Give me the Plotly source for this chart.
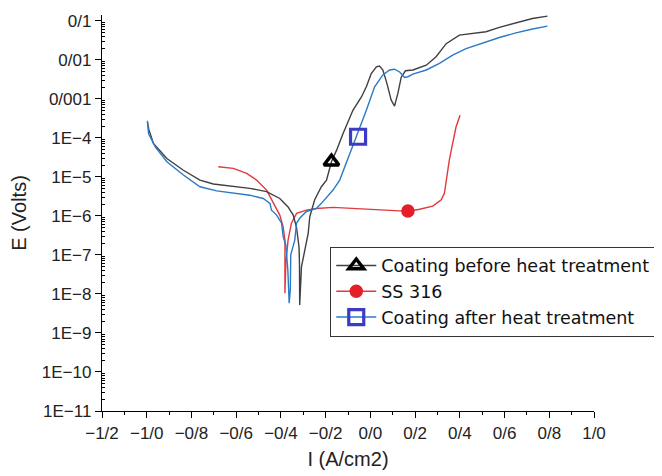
import plotly.graph_objects as go

# ---- data ----
before_I = [-0.997, -0.990, -0.970, -0.910, -0.836, -0.762, -0.702, -0.613, -0.539, -0.464,
            -0.405, -0.368, -0.345, -0.330, -0.319, -0.317, -0.316,
            -0.308, -0.293, -0.278, -0.271, -0.249, -0.219, -0.196, -0.174, -0.150, -0.122,
            -0.078, -0.040, -0.018, 0.004, 0.027, 0.041, 0.056, 0.074, 0.093, 0.108,
            0.123, 0.138, 0.157, 0.190, 0.250, 0.294, 0.339, 0.398, 0.473, 0.517,
            0.577, 0.651, 0.725, 0.792]
before_E = [2.5e-4, 1.6e-4, 7.2e-5, 2.95e-5, 1.48e-5, 8.3e-6, 6.6e-6, 5.75e-6, 5.1e-6, 4.2e-6,
            2.8e-6, 1.7e-6, 1.05e-6, 5.0e-7, 1.6e-7, 6.0e-8, 5.2e-9,
            5.0e-8, 1.35e-7, 3.55e-7, 9.5e-7, 2.6e-6, 5.6e-6, 8.3e-6, 2.45e-5, 5.0e-5, 1.3e-4,
            5.1e-4, 1.12e-3, 2.04e-3, 4.47e-3, 6.6e-3, 6.9e-3, 5.5e-3, 2.5e-3, 9.3e-4, 6.5e-4,
            1.38e-3, 3.6e-3, 5.25e-3, 5.5e-3, 7.3e-3, 1.2e-2, 2.6e-2, 4.3e-2, 4.8e-2, 5.25e-2,
            6.8e-2, 8.9e-2, 0.115, 0.132]

ss_I = [-0.680, -0.613, -0.553, -0.509, -0.464, -0.435, -0.405, -0.390, -0.382, -0.382, -0.382,
        -0.378, -0.368, -0.353, -0.330, -0.286, -0.241, -0.167, 0.041, 0.131, 0.168, 0.220,
        0.279, 0.317, 0.331, 0.339, 0.346, 0.353, 0.368, 0.383, 0.401]
ss_E = [1.82e-5, 1.66e-5, 1.23e-5, 8.3e-6, 4.6e-6, 2.3e-6, 1.05e-6, 5.25e-7, 2.4e-7, 7.4e-8, 1.05e-8,
        6.0e-8, 2.4e-7, 6.5e-7, 1.16e-6, 1.41e-6, 1.55e-6, 1.66e-6, 1.48e-6, 1.35e-6, 1.32e-6, 1.48e-6,
        1.78e-6, 2.6e-6, 3.8e-6, 8.3e-6, 1.82e-5, 2.7e-5, 7.2e-5, 1.9e-4, 3.8e-4]

after_I = [-0.997, -0.992, -0.962, -0.910, -0.836, -0.762, -0.687, -0.613, -0.539, -0.479,
           -0.449, -0.442, -0.419, -0.397, -0.390, -0.378, -0.369, -0.363,
           -0.358, -0.356, -0.338, -0.330, -0.316, -0.286, -0.241, -0.219, -0.167, -0.137,
           -0.093, -0.063, -0.018, 0.019, 0.056, 0.086, 0.108, 0.131, 0.153, 0.168,
           0.190, 0.250, 0.309, 0.368, 0.428, 0.502, 0.577, 0.651, 0.725, 0.792]
after_E = [2.75e-4, 1.3e-4, 5.9e-5, 2.45e-5, 1.12e-5, 5.6e-6, 4.4e-6, 3.9e-6, 3.4e-6, 2.8e-6,
           2.1e-6, 1.4e-6, 1.05e-6, 6.5e-7, 2.95e-7, 1.8e-7, 4.1e-8, 5.8e-9,
           1.26e-8, 1.0e-7, 2.4e-7, 6.5e-7, 8.7e-7, 1.3e-6, 1.55e-6, 2.1e-6, 4.6e-6, 8.3e-6,
           4.0e-5, 1.07e-4, 5.1e-4, 2.04e-3, 4.1e-3, 5.5e-3, 5.75e-3, 4.9e-3, 3.55e-3, 3.7e-3,
           4.3e-3, 5.5e-3, 8.1e-3, 1.32e-2, 1.95e-2, 2.75e-2, 3.75e-2, 4.9e-2, 6.2e-2, 7.3e-2]

# single marker point on each curve
marker_I = [-0.174, 0.168, -0.055]
marker_E = [2.45e-5, 1.33e-6, 1.07e-4]

series_names = ["Coating before heat treatment", "SS 316", "Coating after heat treatment"]

x_tickvals = [-1.2, -1.0, -0.8, -0.6, -0.4, -0.2, 0.0, 0.2, 0.4, 0.6, 0.8, 1.0]
x_ticktext = ["\u22121/2", "\u22121/0", "\u22120/8", "\u22120/6", "\u22120/4", "\u22120/2",
              "0/0", "0/2", "0/4", "0/6", "0/8", "1/0"]
y_tickvals = [1e-11, 1e-10, 1e-9, 1e-8, 1e-7, 1e-6, 1e-5, 1e-4, 1e-3, 1e-2, 1e-1]
y_ticktext = ["1E\u221211", "1E\u221210", "1E\u22129", "1E\u22128", "1E\u22127", "1E\u22126",
              "1E\u22125", "1E\u22124", "0/001", "0/01", "0/1"]
y_minor_mult = [2, 3, 4, 5, 6, 7, 8, 9]
y_minor = [m * t for t in y_tickvals[:-1] for m in y_minor_mult]

# ---- styles ----
line_colors = ["#404040", "#e0393e", "#2a7ac8"]
mk_colors = ["#000000", "#e3202a", "#3b3bc6"]
mk_symbols = ["triangle-up-open", "circle", "square-open"]
mk_sizes = [13, 12, 15]
mk_lw = [3.5, 1.5, 3.2]

fig = go.Figure()
curves = [(before_I, before_E), (ss_I, ss_E), (after_I, after_E)]
draw_order = [1, 0, 2]
for k in draw_order:
    xs, ys = curves[k]
    fig.add_trace(go.Scatter(x=xs, y=ys, mode="lines",
                             line=dict(color=line_colors[k], width=1.4),
                             showlegend=False, hoverinfo="skip"))
for k in range(3):
    fig.add_trace(go.Scatter(x=[marker_I[k]], y=[marker_E[k]], mode="lines+markers",
                             name=series_names[k],
                             line=dict(color=line_colors[k], width=1.6),
                             marker=dict(symbol=mk_symbols[k], size=mk_sizes[k],
                                         color=mk_colors[k],
                                         line=dict(width=mk_lw[k], color=mk_colors[k]))))
# invisible helper trace so the minor-tick overlay axis is drawn
fig.add_trace(go.Scatter(x=[marker_I[0]], y=[marker_E[0]], yaxis="y2", mode="markers",
                         marker=dict(size=1, opacity=0), showlegend=False, hoverinfo="skip"))

font_family = "Liberation Sans, Arial, sans-serif"
fig.update_layout(
    width=654, height=468,
    margin=dict(l=94, r=67, t=7, b=65),
    paper_bgcolor="white", plot_bgcolor="white",
    font=dict(family=font_family, size=17, color="#222222"),
    legend=dict(x=0.463, y=0.415, xanchor="left", yanchor="top",
                bgcolor="white", bordercolor="#333333", borderwidth=1,
                font=dict(family="DejaVu Sans, sans-serif", size=17.5, color="#111111"),
                itemwidth=40, tracegroupgap=0),
    xaxis=dict(range=[-1.2, 1.0], tickmode="array", tickvals=x_tickvals, ticktext=x_ticktext,
               automargin=False,
               showline=True, linecolor="black", linewidth=1.3, showgrid=False, zeroline=False,
               ticks="outside", ticklen=6, tickwidth=1.2, tickcolor="black",
               minor=dict(dtick=0.1, tick0=-1.2, ticks="outside", ticklen=3,
                          tickcolor="black", tickwidth=1, showgrid=False),
               title=dict(text="I (A/cm2)", font=dict(size=20), standoff=10)),
    yaxis=dict(type="log", range=[-11, -0.85], tickmode="array", tickvals=y_tickvals,
               ticktext=y_ticktext, automargin=False,
               showline=True, linecolor="black", linewidth=1.3,
               showgrid=False, zeroline=False, ticks="outside", ticklen=6, tickwidth=1.2,
               tickcolor="black",
               title=dict(text="E (Volts)", font=dict(size=20), standoff=12)),
    yaxis2=dict(type="log", range=[-11, -0.85], overlaying="y", side="left",
                tickmode="array", tickvals=y_minor, showticklabels=False,
                ticks="inside", ticklen=3, tickwidth=1, tickcolor="black",
                showline=False, showgrid=False, zeroline=False, automargin=False),
)

fig.write_html("out.html")
